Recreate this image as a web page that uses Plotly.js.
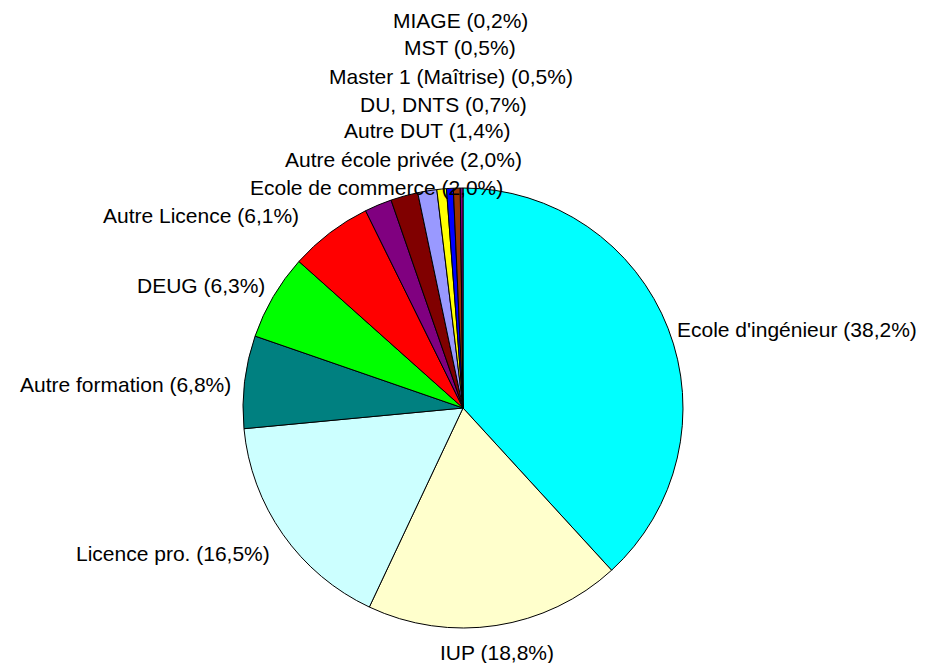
<!DOCTYPE html>
<html><head><meta charset="utf-8">
<script src="https://cdn.plot.ly/plotly-3.0.1.min.js"></script>
<style>html,body{margin:0;padding:0;background:#fff;}</style>
</head><body>
<div id="chart" style="width:925px;height:663px;"></div>
<script>
const categories = ["Ecole d'ingénieur","IUP","Licence pro.","Autre formation","DEUG","Autre Licence","Ecole de commerce","Autre école privée","Autre DUT","DU, DNTS","Master 1 (Maîtrise)","MST","MIAGE"];
const values = [38.2,18.8,16.5,6.8,6.3,6.1,2.0,2.0,1.4,0.7,0.5,0.5,0.2];
const colors = ["#00FFFF","#FFFFCC","#CCFFFF","#008080","#00FF00","#FF0000","#800080","#800000","#9999FF","#FFFF00","#0000FF","#993300","#800080"];
// label centres in pixels (layout only)
const labelPos = [[797,329],[497,652],[173,553],[125,384],[201,285],[201,216],[376,187],[403,159],[427,131],[443,104],[451,76],[460,48],[460,20]];
const W=925,H=663;
const annotations = categories.map((c,i)=>({
  text: c+" ("+values[i].toFixed(1).replace(".",",")+"%)",
  x: labelPos[i][0]/W, y: 1-labelPos[i][1]/H, xref:"paper", yref:"paper",
  xanchor:"center", yanchor:"middle", showarrow:false,
  font:{family:"Liberation Sans, Arial, sans-serif", size:21, color:"#000"}
}));
const cx=463, cy=408, r=220;
Plotly.newPlot("chart",[{
  type:"pie", labels:categories, values:values, sort:false, direction:"clockwise", rotation:0,
  marker:{colors:colors, line:{color:"#000", width:1}}, textinfo:"none", hoverinfo:"label+percent",
  domain:{x:[(cx-r)/W,(cx+r)/W], y:[1-(cy+r)/H,1-(cy-r)/H]}
}],{
  width:W, height:H, margin:{l:0,r:0,t:0,b:0}, showlegend:false,
  paper_bgcolor:"#fff", annotations:annotations
},{displayModeBar:false, staticPlot:true});
</script>
</body></html>
